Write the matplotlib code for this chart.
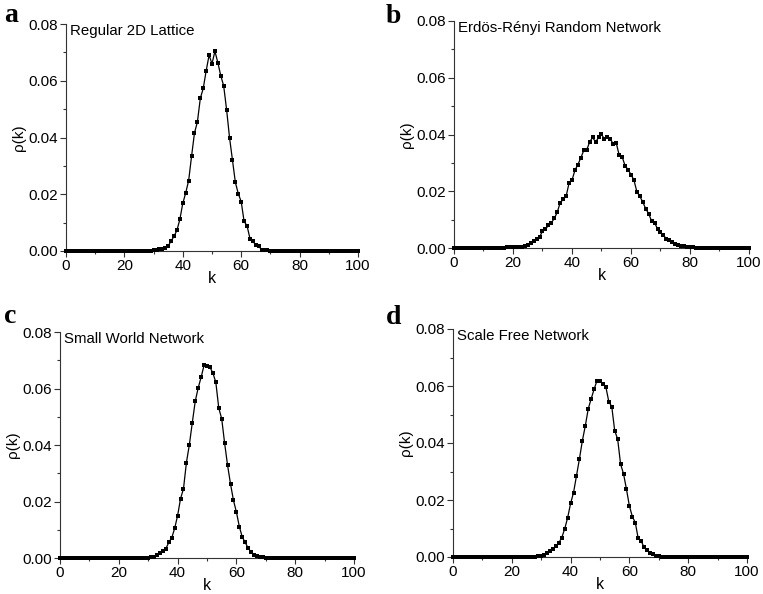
import numpy as np
import matplotlib
matplotlib.use("Agg")
import matplotlib.pyplot as plt
from matplotlib.ticker import MultipleLocator, FormatStrFormatter

plt.rcParams['font.family'] = ['Liberation Sans', 'DejaVu Sans']

# degree k runs 0..100 in every panel; values outside the listed window are zero
k = np.arange(0, 101)

# a - regular 2D lattice, k = 29..70
start_a = 29
rho_a = [0.0001, 0.0002, 0.0005, 0.0008, 0.0006, 0.0009, 0.0018, 0.0035, 0.0052, 0.0073,
         0.0112, 0.0168, 0.0205, 0.0248, 0.0334, 0.0416, 0.0455, 0.0538, 0.0573, 0.0635,
         0.0690, 0.0660, 0.0704, 0.0664, 0.0618, 0.0582, 0.0498, 0.0400, 0.0321, 0.0242,
         0.0202, 0.0174, 0.0104, 0.0089, 0.0044, 0.0035, 0.0020, 0.0016, 0.0005, 0.0004,
         0.0003, 0.0001]

# b - Erdos-Renyi, k = 15..85
start_b = 15
rho_b = [0.0001, 0.0001, 0.0001, 0.0002, 0.0002, 0.0003, 0.0003, 0.0004, 0.0005, 0.0007,
         0.0012, 0.0019, 0.0025, 0.0032, 0.0039, 0.0059, 0.0066, 0.0080, 0.0089, 0.0104,
         0.0126, 0.0160, 0.0171, 0.0182, 0.0229, 0.0239, 0.0274, 0.0294, 0.0318, 0.0344,
         0.0346, 0.0374, 0.0390, 0.0373, 0.0390, 0.0401, 0.0383, 0.0392, 0.0385, 0.0365,
         0.0370, 0.0327, 0.0321, 0.0290, 0.0276, 0.0259, 0.0239, 0.0198, 0.0182, 0.0162,
         0.0138, 0.0121, 0.0094, 0.0089, 0.0067, 0.0056, 0.0045, 0.0032, 0.0027, 0.0020,
         0.0015, 0.0011, 0.0008, 0.0006, 0.0004, 0.0003, 0.0002, 0.0001, 0.0001, 0.0001,
         0.0001]

# c - small world, k = 30..71
start_c = 30
rho_c = [0.0001, 0.0003, 0.0005, 0.0010, 0.0018, 0.0026, 0.0033, 0.0055, 0.0071, 0.0105,
         0.0150, 0.0210, 0.0245, 0.0338, 0.0401, 0.0479, 0.0555, 0.0602, 0.0640, 0.0682,
         0.0679, 0.0675, 0.0655, 0.0622, 0.0531, 0.0493, 0.0406, 0.0328, 0.0262, 0.0204,
         0.0163, 0.0111, 0.0074, 0.0055, 0.0035, 0.0021, 0.0012, 0.0007, 0.0004, 0.0002,
         0.0001, 0.0001]

# d - scale free, k = 28..71
start_d = 28
rho_d = [0.0001, 0.0002, 0.0003, 0.0008, 0.0013, 0.0021, 0.0028, 0.0039, 0.0050, 0.0068,
         0.0099, 0.0138, 0.0188, 0.0226, 0.0285, 0.0344, 0.0408, 0.0460, 0.0520, 0.0555,
         0.0589, 0.0619, 0.0619, 0.0608, 0.0596, 0.0545, 0.0528, 0.0443, 0.0414, 0.0326,
         0.0292, 0.0238, 0.0179, 0.0142, 0.0121, 0.0065, 0.0056, 0.0034, 0.0023, 0.0015,
         0.0009, 0.0005, 0.0003, 0.0001]

panel_letters = ["a", "b", "c", "d"]
titles = ["Regular 2D Lattice", "Erdös-Rényi Random Network",
          "Small World Network", "Scale Free Network"]
series = [(start_a, rho_a), (start_b, rho_b), (start_c, rho_c), (start_d, rho_d)]

W, H = 763, 594
fig = plt.figure(figsize=(W / 100, H / 100), dpi=100)

# axes boxes in pixels: left, top, right, bottom
boxes = [(66, 24, 358, 251), (454, 21, 749, 248),
         (60, 332, 354, 558), (453, 329, 747, 557)]
letter_pos = [(4, 3), (386, 4), (4, 304), (386, 305)]

for i in range(4):
    l, t, r, b = boxes[i]
    ax = fig.add_axes([l / W, 1 - b / H, (r - l) / W, (b - t) / H])
    s, vals = series[i]
    y = np.zeros(len(k))
    y[s:s + len(vals)] = vals
    ax.plot(k, y, color='black', lw=0.9, marker='s', markersize=3.3,
            markerfacecolor='black', markeredgewidth=0, clip_on=False, zorder=3)
    ax.set_xlim(0, 100)
    ax.set_ylim(0, 0.08)
    ax.xaxis.set_major_locator(MultipleLocator(20))
    ax.xaxis.set_minor_locator(MultipleLocator(10))
    ax.yaxis.set_major_locator(MultipleLocator(0.02))
    ax.yaxis.set_minor_locator(MultipleLocator(0.01))
    ax.yaxis.set_major_formatter(FormatStrFormatter('%.2f'))
    ax.spines['top'].set_visible(False)
    ax.spines['right'].set_visible(False)
    for sp in ['left', 'bottom']:
        ax.spines[sp].set_color('#333333')
        ax.spines[sp].set_linewidth(0.8)
    ax.tick_params(which='major', direction='out', length=4, width=0.8,
                   labelsize=11, pad=1.5, color='#333333')
    ax.tick_params(which='minor', direction='out', length=2.5, width=0.8, color='#333333')
    ax.set_xlabel('k', fontsize=11.5, labelpad=-1)
    ax.set_ylabel('ρ(k)', fontsize=11, labelpad=2)
    ax.text(0.015, 1.0, titles[i], transform=ax.transAxes, ha='left', va='top',
            fontsize=10.8)
    lx, ly = letter_pos[i]
    fig.text(lx / W, 1 - ly / H, panel_letters[i], ha='left', va='top',
             fontsize=20, fontweight='bold', family='Liberation Serif')

fig.savefig('out.png', dpi=100)
